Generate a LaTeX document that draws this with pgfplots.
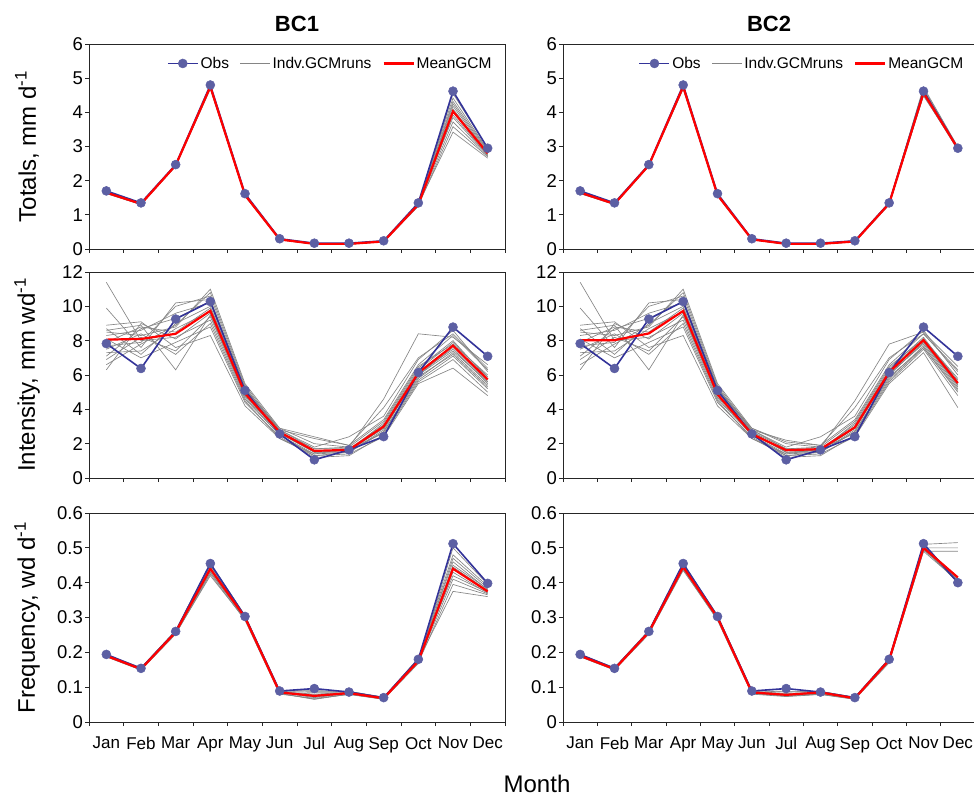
\documentclass[border=0pt]{standalone}
\usepackage{fontspec}
\setmainfont{Liberation Sans}
\usepackage{pgfplots}
\pgfplotsset{compat=1.18}
\usepackage{pgfplotstable}

\definecolor{obsblue}{HTML}{333399}
\definecolor{obsfill}{HTML}{5C5FA3}
\definecolor{rungray}{HTML}{858585}

\pgfplotstableread{
m obs mean r1 r2 r3 r4 r5 r6 r7 r8 r9 r10 r11 r12
1 1.70 1.65 1.63 1.66 1.64 1.67 1.65 1.62 1.66 1.64 1.68 1.65 1.63 1.67
2 1.35 1.32 1.30 1.33 1.31 1.34 1.32 1.30 1.33 1.31 1.34 1.32 1.31 1.33
3 2.47 2.45 2.42 2.46 2.44 2.47 2.45 2.43 2.46 2.44 2.47 2.45 2.43 2.46
4 4.80 4.75 4.70 4.78 4.72 4.77 4.74 4.68 4.76 4.73 4.79 4.75 4.71 4.77
5 1.62 1.58 1.55 1.60 1.57 1.59 1.58 1.55 1.60 1.57 1.61 1.58 1.56 1.59
6 0.30 0.28 0.27 0.29 0.28 0.29 0.28 0.27 0.29 0.28 0.30 0.28 0.27 0.29
7 0.17 0.15 0.14 0.16 0.15 0.16 0.15 0.14 0.16 0.15 0.16 0.15 0.14 0.15
8 0.17 0.15 0.14 0.16 0.15 0.16 0.15 0.14 0.16 0.15 0.16 0.15 0.14 0.15
9 0.24 0.22 0.21 0.23 0.22 0.23 0.22 0.21 0.23 0.22 0.24 0.22 0.21 0.23
10 1.35 1.30 1.25 1.32 1.28 1.31 1.30 1.26 1.33 1.29 1.34 1.30 1.27 1.31
11 4.62 4.03 4.55 4.42 4.32 4.25 4.18 4.10 4.02 3.92 3.85 3.72 3.58 3.42
12 2.95 2.80 2.95 2.90 2.88 2.85 2.82 2.80 2.79 2.76 2.74 2.72 2.70 2.66
}\tA

\pgfplotstableread{
m obs mean r1 r2 r3 r4 r5 r6 r7 r8 r9 r10 r11 r12
1 1.70 1.65 1.63 1.66 1.64 1.67 1.65 1.62 1.66 1.64 1.68 1.65 1.63 1.67
2 1.35 1.32 1.30 1.33 1.31 1.34 1.32 1.30 1.33 1.31 1.34 1.32 1.31 1.33
3 2.47 2.45 2.42 2.46 2.44 2.47 2.45 2.43 2.46 2.44 2.47 2.45 2.43 2.46
4 4.80 4.75 4.70 4.78 4.72 4.77 4.74 4.68 4.76 4.73 4.79 4.75 4.71 4.77
5 1.62 1.58 1.55 1.60 1.57 1.59 1.58 1.55 1.60 1.57 1.61 1.58 1.56 1.59
6 0.30 0.28 0.27 0.29 0.28 0.29 0.28 0.27 0.29 0.28 0.30 0.28 0.27 0.29
7 0.17 0.15 0.14 0.16 0.15 0.16 0.15 0.14 0.16 0.15 0.16 0.15 0.14 0.15
8 0.17 0.15 0.14 0.16 0.15 0.16 0.15 0.14 0.16 0.15 0.16 0.15 0.14 0.15
9 0.24 0.22 0.21 0.23 0.22 0.23 0.22 0.21 0.23 0.22 0.24 0.22 0.21 0.23
10 1.35 1.33 1.29 1.34 1.31 1.35 1.33 1.30 1.34 1.32 1.36 1.33 1.31 1.34
11 4.62 4.57 4.50 4.62 4.55 4.70 4.58 4.52 4.65 4.56 4.74 4.54 4.60 4.48
12 2.95 2.94 2.90 2.96 2.93 2.98 2.94 2.91 2.96 2.93 2.99 2.94 2.92 2.95
}\tB

\pgfplotstableread{
m obs mean r1 r2 r3 r4 r5 r6 r7 r8 r9 r10 r11 r12 r13 r14 r15 r16
1 7.83 8.06 11.4 9.9 8.9 8.7 8.6 8.5 8.3 8.1 7.9 7.7 7.5 7.3 7.1 6.9 6.6 6.3
2 6.38 8.10 8.0 7.6 9.1 7.2 8.9 8.3 8.6 7.0 8.8 7.9 8.4 7.4 8.7 8.2 7.8 9.0
3 9.26 8.40 8.2 10.2 7.6 9.0 6.3 8.8 9.6 7.9 8.5 10.0 7.2 8.7 9.3 7.4 8.9 8.1
4 10.28 9.74 9.2 10.4 8.3 10.0 9.5 11.0 10.2 8.8 9.9 10.6 9.0 9.7 10.3 9.4 10.8 9.6
5 5.10 4.93 4.6 5.2 4.2 5.0 4.8 5.5 4.9 4.4 5.1 5.3 4.5 4.9 5.2 4.7 5.4 4.8
6 2.57 2.67 2.5 2.8 2.3 2.7 2.6 2.9 2.6 2.4 2.8 2.7 2.3 2.6 2.9 2.5 2.8 2.6
7 1.06 1.58 1.4 2.3 1.3 1.7 1.5 2.0 1.6 1.2 1.8 1.5 1.4 1.6 2.4 1.3 1.7 1.5
8 1.64 1.64 1.5 1.9 1.4 1.7 1.6 1.8 1.6 1.3 2.4 1.5 1.7 1.6 1.9 1.5 1.8 1.6
9 2.41 3.00 2.7 3.4 2.4 3.1 2.9 4.6 3.0 2.5 3.6 2.8 2.6 3.2 4.1 2.7 3.3 2.9
10 6.14 6.12 5.8 6.6 5.5 6.3 6.0 8.4 6.2 5.6 6.9 6.1 5.7 6.4 7.0 5.9 6.5 6.0
11 8.79 7.71 7.3 8.3 6.4 7.9 7.6 8.2 7.7 6.9 8.6 7.5 7.1 8.0 8.4 7.2 7.8 7.4
12 7.09 5.74 5.4 6.3 4.8 5.9 5.6 6.6 5.7 5.0 6.2 5.5 5.2 5.8 6.4 5.3 6.0 5.6
}\iA

\pgfplotstableread{
m obs mean r1 r2 r3 r4 r5 r6 r7 r8 r9 r10 r11 r12 r13 r14 r15 r16
1 7.83 8.03 11.4 9.9 8.9 8.7 8.6 8.5 8.3 8.1 7.9 7.7 7.5 7.3 7.1 6.9 6.6 6.3
2 6.38 8.03 8.0 7.6 9.1 7.2 8.9 8.3 8.6 7.0 8.8 7.9 8.4 7.4 8.7 8.2 7.8 9.0
3 9.26 8.42 8.2 10.2 7.6 9.0 6.3 8.8 9.6 7.9 8.5 10.0 7.2 8.7 9.3 7.4 8.9 8.1
4 10.28 9.73 9.2 10.4 8.3 10.0 9.5 11.0 10.2 8.8 9.9 10.6 9.0 9.7 10.3 9.4 10.8 9.6
5 5.10 4.87 4.6 5.2 4.2 5.0 4.8 5.5 4.9 4.4 5.1 5.3 4.5 4.9 5.2 4.7 5.4 4.8
6 2.57 2.56 2.5 2.8 2.3 2.7 2.6 2.9 2.6 2.4 2.8 2.7 2.3 2.6 2.9 2.5 2.8 2.6
7 1.06 1.62 1.4 2.2 1.3 1.7 1.5 2.0 1.6 1.2 1.8 1.5 1.4 1.6 2.1 1.3 1.7 1.5
8 1.64 1.68 1.5 1.9 1.4 1.7 1.6 1.8 1.6 1.3 2.4 1.5 1.7 1.6 1.9 1.5 1.8 1.6
9 2.41 2.95 2.7 3.4 2.4 3.1 2.9 4.5 3.0 2.5 3.6 2.8 2.6 3.2 4.1 2.7 3.3 2.9
10 6.14 6.17 5.8 6.6 5.5 6.3 6.0 7.8 6.2 5.6 6.9 6.1 5.7 6.4 7.0 5.9 6.5 6.0
11 8.79 8.03 7.7 8.4 7.3 8.1 7.9 8.5 8.0 7.5 8.6 7.8 7.6 8.2 8.4 7.6 8.1 7.9
12 7.09 5.53 5.2 6.2 4.1 5.7 5.4 6.5 5.5 4.8 6.0 5.3 5.0 5.6 6.3 5.1 5.8 5.4
}\iB

\pgfplotstableread{
m obs mean r1 r2 r3 r4 r5 r6 r7 r8 r9 r10 r11 r12
1 0.194 0.190 0.188 0.192 0.190 0.193 0.189 0.187 0.191 0.190 0.194 0.189 0.188 0.192
2 0.154 0.152 0.150 0.154 0.152 0.155 0.151 0.149 0.153 0.152 0.156 0.151 0.150 0.153
3 0.260 0.258 0.254 0.260 0.257 0.262 0.256 0.252 0.259 0.257 0.263 0.256 0.254 0.260
4 0.455 0.440 0.420 0.450 0.440 0.455 0.430 0.425 0.445 0.440 0.455 0.435 0.430 0.450
5 0.303 0.300 0.295 0.303 0.300 0.305 0.298 0.292 0.302 0.300 0.306 0.297 0.295 0.303
6 0.089 0.085 0.082 0.088 0.085 0.090 0.084 0.080 0.087 0.085 0.090 0.084 0.082 0.087
7 0.096 0.075 0.065 0.085 0.072 0.090 0.075 0.068 0.080 0.070 0.088 0.074 0.066 0.078
8 0.086 0.083 0.080 0.086 0.082 0.088 0.083 0.079 0.085 0.082 0.088 0.082 0.080 0.085
9 0.070 0.068 0.066 0.070 0.068 0.071 0.067 0.065 0.069 0.068 0.071 0.067 0.066 0.069
10 0.180 0.175 0.170 0.180 0.174 0.182 0.176 0.168 0.178 0.173 0.183 0.175 0.170 0.178
11 0.512 0.440 0.500 0.480 0.470 0.460 0.450 0.445 0.440 0.430 0.420 0.410 0.395 0.375
12 0.398 0.375 0.395 0.390 0.385 0.380 0.382 0.378 0.375 0.370 0.372 0.368 0.365 0.360
}\fA

\pgfplotstableread{
m obs mean r1 r2 r3 r4 r5 r6 r7 r8 r9 r10 r11 r12
1 0.194 0.190 0.188 0.192 0.190 0.193 0.189 0.187 0.191 0.190 0.194 0.189 0.188 0.192
2 0.154 0.152 0.150 0.154 0.152 0.155 0.151 0.149 0.153 0.152 0.156 0.151 0.150 0.153
3 0.260 0.258 0.254 0.260 0.257 0.262 0.256 0.252 0.259 0.257 0.263 0.256 0.254 0.260
4 0.455 0.445 0.435 0.450 0.445 0.455 0.440 0.438 0.448 0.444 0.455 0.442 0.440 0.450
5 0.303 0.300 0.295 0.303 0.300 0.305 0.298 0.292 0.302 0.300 0.306 0.297 0.295 0.303
6 0.089 0.085 0.082 0.088 0.085 0.090 0.084 0.080 0.087 0.085 0.090 0.084 0.082 0.087
7 0.096 0.078 0.074 0.082 0.077 0.086 0.078 0.073 0.080 0.076 0.088 0.077 0.075 0.080
8 0.086 0.085 0.080 0.086 0.082 0.088 0.083 0.079 0.085 0.082 0.088 0.082 0.080 0.085
9 0.070 0.068 0.066 0.070 0.068 0.071 0.067 0.065 0.069 0.068 0.071 0.067 0.066 0.069
10 0.180 0.178 0.172 0.180 0.176 0.182 0.177 0.170 0.179 0.175 0.183 0.176 0.173 0.179
11 0.512 0.500 0.490 0.500 0.505 0.510 0.495 0.500 0.505 0.490 0.510 0.500 0.495 0.505
12 0.400 0.415 0.405 0.400 0.410 0.515 0.405 0.500 0.410 0.490 0.405 0.400 0.410 0.415
}\fB

\pgfplotsset{
  panel/.style={
    scale only axis,
    xmin=0.5, xmax=12.5,
    tick align=outside,
    tick pos=left,
    major tick length=4pt,
    xtick={0.5,1.5,...,12.5},
    xticklabels={},
    axis line style={line width=0.8pt, black!85},
    tick style={line width=0.8pt, black!85},
    yticklabel style={font=\fontsize{18.5}{20}\selectfont, inner sep=2pt},
    /pgf/number format/assume math mode=true,
    ylabel style={font=\fontsize{24}{26}\selectfont, at={(axis description cs:-0.149,0.5)}, anchor=center},
    title style={font=\bfseries\fontsize{22}{24}\selectfont, at={(0.5,1)}, anchor=south, yshift=3pt},
    legend style={draw=none, fill=none, at={(0.58,0.905)}, anchor=center,
      legend columns=3, font=\fontsize{15.5}{16}\selectfont,
      /tikz/every even column/.append style={column sep=9pt}},
    legend image code/.code={\draw[mark repeat=2,mark phase=2,##1] plot coordinates {(0pt,0pt) (15pt,0pt) (30pt,0pt)};},
  },
  bottomrow/.style={
    extra x ticks={1,2,...,12},
    extra x tick labels={Jan,Feb,Mar,Apr,May,Jun,Jul,Aug,Sep,Oct,Nov,Dec},
    extra x tick style={major tick length=0pt, xticklabel style={font=\fontsize{17}{18}\selectfont, yshift=-14pt, inner sep=1pt}},
  },
  runs/.style={rungray, line width=0.65pt, no markers},
  obs/.style={obsblue, line width=1.6pt, mark=*, mark size=4.5pt, mark options={fill=obsfill, draw=obsfill, line width=0.5pt}},
  meanl/.style={red, line width=2.2pt, no markers},
}

\begin{document}
\begin{tikzpicture}
\path[use as bounding box] (0pt,0pt) rectangle (974pt,796pt);

% ---------- Totals BC1
\begin{axis}[panel, at={(89pt,547pt)}, anchor=south west, width=416pt, height=205pt,
  ymin=0, ymax=6, ytick={0,1,2,3,4,5,6},
  ylabel={Totals, mm d\textsuperscript{-1}}, title={BC1}]
\addlegendimage{obs}\addlegendentry{Obs}
\addlegendimage{runs}\addlegendentry{Indv.GCMruns}
\addlegendimage{meanl}\addlegendentry{MeanGCM}
\pgfplotsinvokeforeach{1,...,12}{\addplot[runs, forget plot] table[x=m,y=r#1]{\tA};}
\addplot[obs, forget plot] table[x=m,y=obs]{\tA};
\addplot[meanl, forget plot] table[x=m,y=mean]{\tA};
\end{axis}

% ---------- Totals BC2
\begin{axis}[panel, at={(563pt,547pt)}, anchor=south west, width=412pt, height=205pt,
  ymin=0, ymax=6, ytick={0,1,2,3,4,5,6}, title={BC2}]
\addlegendimage{obs}\addlegendentry{Obs}
\addlegendimage{runs}\addlegendentry{Indv.GCMruns}
\addlegendimage{meanl}\addlegendentry{MeanGCM}
\pgfplotsinvokeforeach{1,...,12}{\addplot[runs, forget plot] table[x=m,y=r#1]{\tB};}
\addplot[obs, forget plot] table[x=m,y=obs]{\tB};
\addplot[meanl, forget plot] table[x=m,y=mean]{\tB};
\end{axis}

% ---------- Intensity BC1
\begin{axis}[panel, at={(89pt,318pt)}, anchor=south west, width=416pt, height=206pt,
  ymin=0, ymax=12, ytick={0,2,4,6,8,10,12},
  ylabel={Intensity, mm wd\textsuperscript{-1}}]
\pgfplotsinvokeforeach{1,...,16}{\addplot[runs] table[x=m,y=r#1]{\iA};}
\addplot[obs] table[x=m,y=obs]{\iA};
\addplot[meanl] table[x=m,y=mean]{\iA};
\end{axis}

% ---------- Intensity BC2
\begin{axis}[panel, at={(563pt,318pt)}, anchor=south west, width=412pt, height=206pt,
  ymin=0, ymax=12, ytick={0,2,4,6,8,10,12}]
\pgfplotsinvokeforeach{1,...,16}{\addplot[runs] table[x=m,y=r#1]{\iB};}
\addplot[obs] table[x=m,y=obs]{\iB};
\addplot[meanl] table[x=m,y=mean]{\iB};
\end{axis}

% ---------- Frequency BC1
\begin{axis}[panel, bottomrow, at={(89pt,74pt)}, anchor=south west, width=416pt, height=209pt,
  ymin=0, ymax=0.6, ytick={0,0.1,0.2,0.3,0.4,0.5,0.6},
  yticklabels={0,0.1,0.2,0.3,0.4,0.5,0.6},
  ylabel={Frequency, wd d\textsuperscript{-1}}]
\pgfplotsinvokeforeach{1,...,12}{\addplot[runs] table[x=m,y=r#1]{\fA};}
\addplot[obs] table[x=m,y=obs]{\fA};
\addplot[meanl] table[x=m,y=mean]{\fA};
\end{axis}

% ---------- Frequency BC2
\begin{axis}[panel, bottomrow, at={(563pt,74pt)}, anchor=south west, width=412pt, height=209pt,
  ymin=0, ymax=0.6, ytick={0,0.1,0.2,0.3,0.4,0.5,0.6},
  yticklabels={0,0.1,0.2,0.3,0.4,0.5,0.6}]
\pgfplotsinvokeforeach{1,...,12}{\addplot[runs] table[x=m,y=r#1]{\fB};}
\addplot[obs] table[x=m,y=obs]{\fB};
\addplot[meanl] table[x=m,y=mean]{\fB};
\end{axis}

\node[font=\fontsize{24}{26}\selectfont, anchor=center] at (537pt,12pt) {Month};
\end{tikzpicture}
\end{document}
